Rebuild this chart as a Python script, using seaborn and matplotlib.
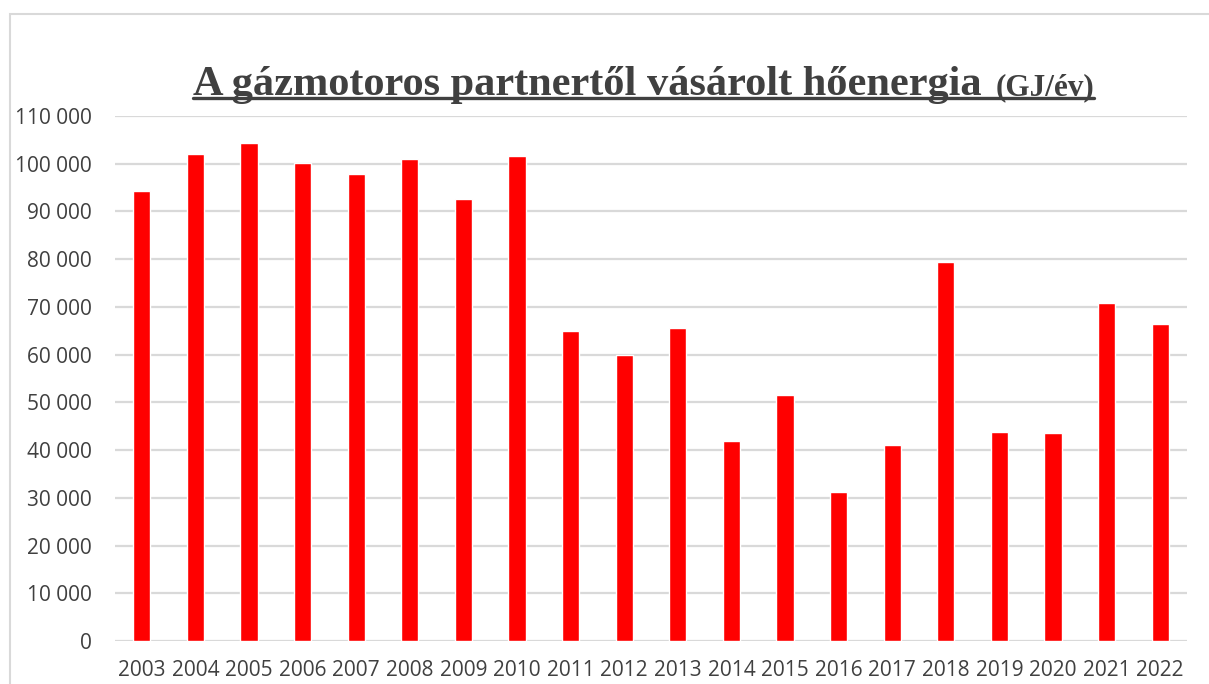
import matplotlib
matplotlib.use("Agg")
import matplotlib.pyplot as plt
from matplotlib.ticker import FuncFormatter, MultipleLocator
from matplotlib.patches import Rectangle
from matplotlib.lines import Line2D
import pandas as pd
import seaborn as sns

# Data (GJ/év)
years = [str(y) for y in range(2003, 2023)]
heat_gj = [94300, 102100, 104300, 100100, 97800, 100900, 92600, 101600,
           65000, 60000, 65600, 42000, 51500, 31200, 41100, 79400,
           43700, 43500, 70800, 66400]

title_main = "A gázmotoros partnertől vásárolt hőenergia"
title_unit = "(GJ/év)"

df = pd.DataFrame({"year": years, "heat": heat_gj})

sns.set_theme(style="white")
plt.rcParams["font.family"] = ["Open Sans", "DejaVu Sans"]

text_col = "#404040"
grid_col = "#d9d9d9"

fig = plt.figure(figsize=(12.09, 6.84), dpi=100)
ax = fig.add_axes([115 / 1209, 43 / 684, 1072 / 1209, 525 / 684])

sns.barplot(data=df, x="year", y="heat", color="#ff0000", saturation=1,
            width=0.32, ax=ax, zorder=3)

ax.set_ylim(0, 110000)
ax.set_xlim(-0.5, len(years) - 0.5)
ax.yaxis.set_major_locator(MultipleLocator(10000))
ax.yaxis.set_major_formatter(FuncFormatter(lambda v, p: f"{int(v):,}".replace(",", " ")))
ax.grid(axis="y", color=grid_col, lw=1.6, zorder=0)
ax.set_axisbelow(True)
for s in ax.spines.values():
    s.set_visible(False)
ax.set_xlabel("")
ax.set_ylabel("")
ax.tick_params(axis="y", length=0, pad=17, labelsize=15, labelcolor=text_col)
ax.tick_params(axis="x", length=0, pad=14, labelsize=15, labelcolor=text_col)

# chart area border (cropped on right/bottom like the reference)
fig.patches.append(Rectangle((10 / 1209, -0.2), 2.0, (684 - 14) / 684 + 0.2,
                             transform=fig.transFigure, fill=False,
                             edgecolor=grid_col, lw=1.5))

# underlined two-part title
base_y = (684 - 95) / 684
t1 = fig.text(193 / 1209, base_y, title_main, ha="left", va="baseline",
              family="Liberation Serif", weight="bold", fontsize=30.5,
              color=text_col)
fig.canvas.draw()
r = fig.canvas.get_renderer()
bb1 = t1.get_window_extent(r)
t2 = fig.text((bb1.x1 + 14) / 1209, base_y, title_unit, ha="left", va="baseline",
              family="Liberation Serif", weight="bold", fontsize=22.5,
              color=text_col)
bb2 = t2.get_window_extent(r)
uy = (684 - 98) / 684
fig.lines.append(Line2D([bb1.x0 / 1209, bb2.x1 / 1209], [uy, uy],
                        transform=fig.transFigure, color=text_col, lw=2.4))

fig.savefig("out.png", dpi=100)
